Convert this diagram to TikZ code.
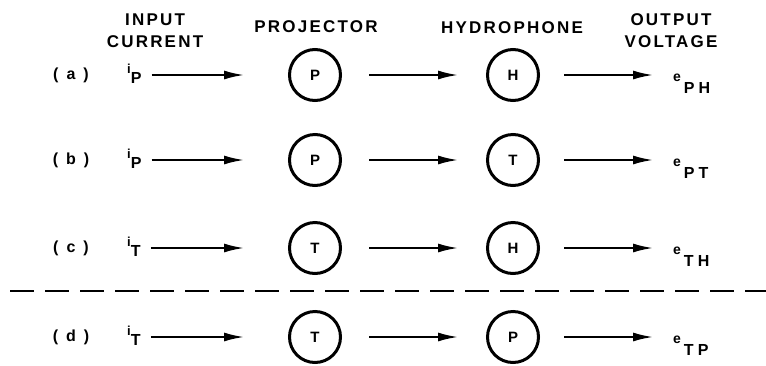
\documentclass[tikz,border=0pt]{standalone}
\usepackage{fontspec}
\setmainfont{Liberation Sans}
\newfontfamily\ttlfont[LetterSpace=13]{Liberation Sans}
\newfontfamily\subfont[LetterSpace=25]{Liberation Sans}
\usetikzlibrary{arrows.meta}
\begin{document}
\begin{tikzpicture}[x=1pt,y=-1pt,
  title/.style={font=\ttlfont\bfseries\fontsize{17}{22}\selectfont, inner sep=0pt, align=center},
  dev/.style={circle, draw, line width=3pt, minimum size=51pt, inner sep=0pt,
              font=\bfseries\fontsize{15}{15}\selectfont},
  arr/.style={-{Latex[length=21pt,width=9pt]}, line width=2.6pt},
  rowlbl/.style={font=\bfseries\fontsize{16}{16}\selectfont, inner sep=0pt},
  sig/.style={font=\subfont\bfseries\fontsize{16}{16}\selectfont, inner sep=0pt, anchor=base west},
  sep/.style={line width=2.4pt, dash pattern=on 24pt off 11pt},
]
\useasboundingbox (0,0) rectangle (766,365);

% column titles
\node[title] (tin)   at (155,31) {INPUT\\CURRENT};
\node[title] (tproj) at (316,27) {PROJECTOR};
\node[title] (thyd)  at (512,28) {HYDROPHONE};
\node[title] (tout)  at (671,31) {OUTPUT\\VOLTAGE};

% rows
\foreach \y/\l/\s/\pa/\pb/\o [count=\k] in
  {75/a/P/P/H/PH, 160/b/P/P/T/PT, 248/c/T/T/H/TH, 337/d/T/T/P/TP} {
  \node[rowlbl] (lab\k) at (71,\y) {(\hspace{8pt}\l\hspace{8pt})};
  \node[sig] (in\k) at (127,\y-2) {{\fontsize{13}{13}\selectfont i}\raisebox{-10pt}{\s}};
  \node[dev] (p\k) at (315,\y) {\pa};
  \node[dev] (h\k) at (513,\y) {\pb};
  \node[sig] (out\k) at (673,\y+6) {{\fontsize{14}{14}\selectfont e}\hspace{3pt}\raisebox{-12pt}{\o}};
  \draw[arr] ([xshift=10pt]in\k.east |- p\k) -- ([xshift=-43pt]p\k.west);
  \draw[arr, shorten <=27pt, shorten >=27pt] (p\k.east) -- (h\k.west);
  \draw[arr] ([xshift=24pt]h\k.east) -- ([xshift=-19pt]out\k.west |- h\k);
}

% separator between (c) and (d)
\coordinate (sepL) at (10,291);
\coordinate (sepR) at (766,291);
\draw[sep] (sepL) -- (sepR);
\end{tikzpicture}
\end{document}
